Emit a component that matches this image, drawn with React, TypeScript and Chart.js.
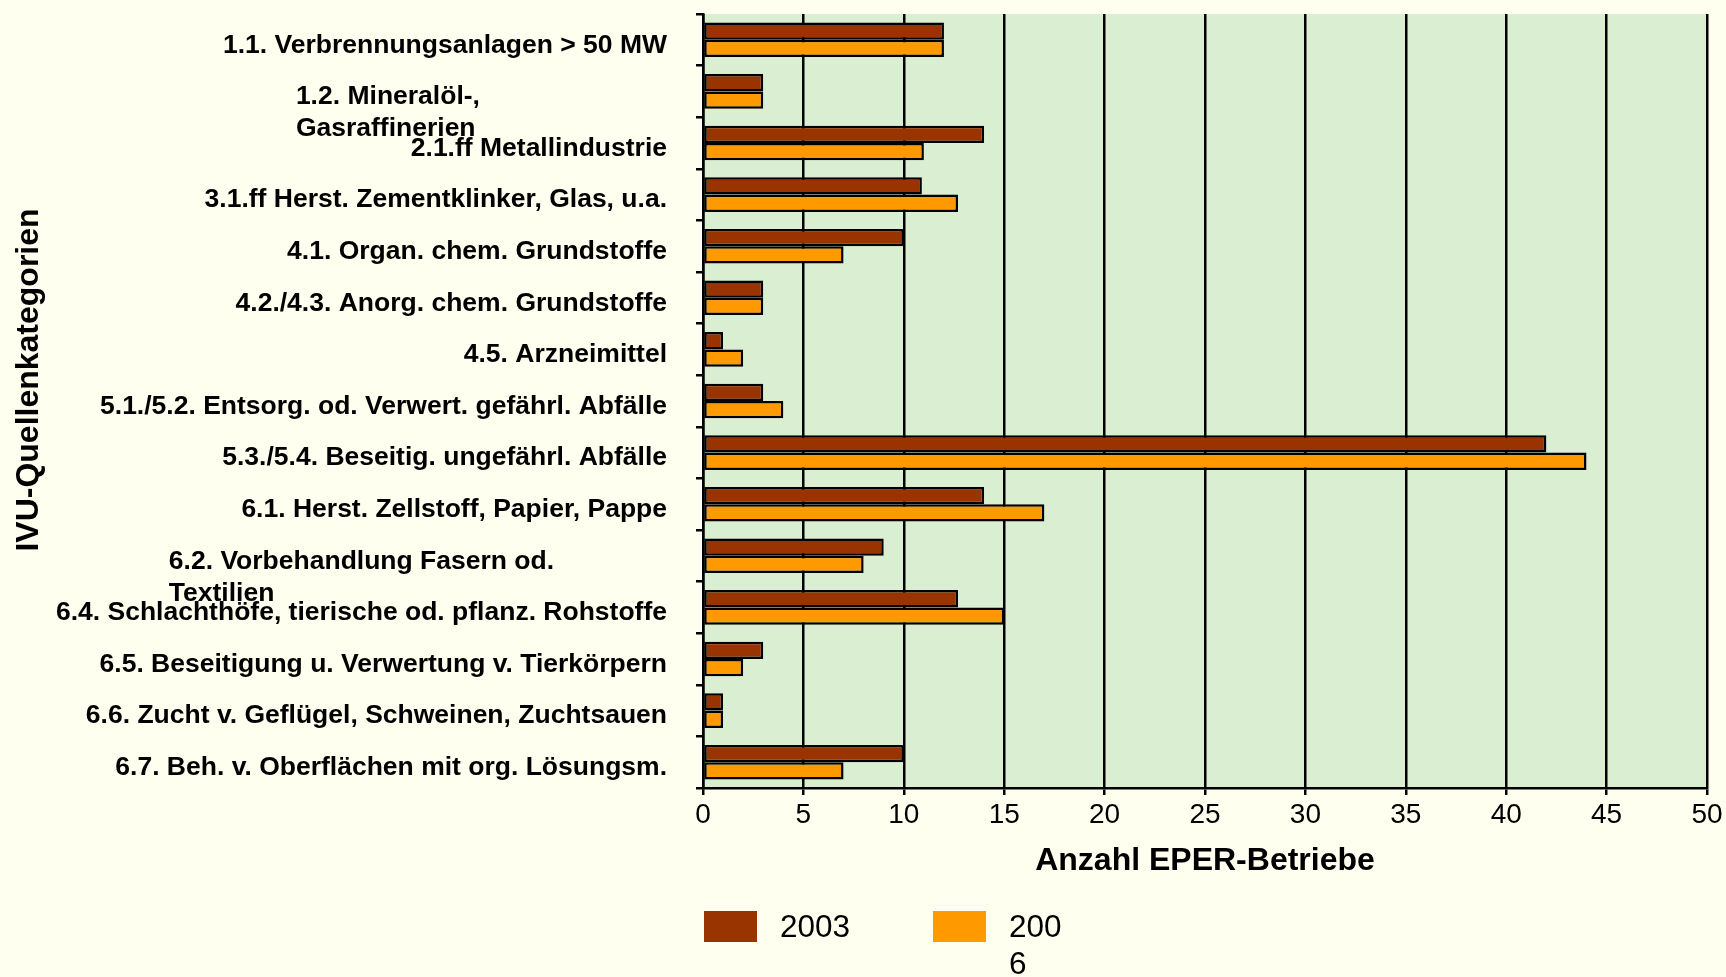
import React, { useEffect, useRef } from "react";
import { Chart, registerables } from "chart.js";

Chart.register(...registerables);

// ---------- data ----------
const CATEGORIES: (string | string[])[] = [
  "1.1. Verbrennungsanlagen > 50 MW",
  ["1.2. Mineralöl-,", "Gasraffinerien"],
  "2.1.ff Metallindustrie",
  "3.1.ff Herst. Zementklinker, Glas, u.a.",
  "4.1. Organ. chem. Grundstoffe",
  "4.2./4.3. Anorg. chem. Grundstoffe",
  "4.5. Arzneimittel",
  "5.1./5.2. Entsorg. od. Verwert. gefährl. Abfälle",
  "5.3./5.4. Beseitig. ungefährl. Abfälle",
  "6.1. Herst. Zellstoff, Papier, Pappe",
  ["6.2. Vorbehandlung Fasern od.", "Textilien"],
  "6.4. Schlachthöfe, tierische od. pflanz. Rohstoffe",
  "6.5. Beseitigung u. Verwertung v. Tierkörpern",
  "6.6. Zucht v. Geflügel, Schweinen, Zuchtsauen",
  "6.7. Beh. v. Oberflächen mit org. Lösungsm.",
];
const VALUES_2003 = [12, 3, 14, 10.9, 10, 3, 1, 3, 42, 14, 9, 12.7, 3, 1, 10];
const VALUES_2006 = [12, 3, 11, 12.7, 7, 3, 2, 4, 44, 17, 8, 15, 2, 1, 7];
const SERIES_NAMES = ["2003", "2006"];
const LEGEND_TEXT = [["2003"], ["200", "6"]];
const X_TITLE = "Anzahl EPER-Betriebe";
const Y_TITLE = "IVU-Quellenkategorien";
const X_MIN = 0;
const X_MAX = 50;
const X_STEP = 5;

// ---------- style ----------
const FONT = '"Liberation Sans", Arial, Helvetica, sans-serif';
const PAGE_BG = "#FFFFF0";
const PLOT_BG = "#DAEED2";
const COLORS = ["#993300", "#FF9900"];

const decorPlugin = {
  id: "decor",
  beforeDraw(chart: any) {
    const { ctx, chartArea: a } = chart;
    ctx.save();
    ctx.fillStyle = PLOT_BG;
    ctx.fillRect(a.left, a.top, a.right - a.left, a.bottom - a.top);
    ctx.restore();
  },
  afterDraw(chart: any) {
    const { ctx, chartArea: a } = chart;
    const yScale = chart.scales.y;
    ctx.save();
    ctx.fillStyle = "#000";
    ctx.textBaseline = "middle";
    ctx.font = `bold 26.5px ${FONT}`;
    const right = a.left - 36;
    CATEGORIES.forEach((lab, i) => {
      const cy = yScale.getPixelForValue(i) + 5.5;
      if (Array.isArray(lab)) {
        const w = ctx.measureText(lab.join(" ")).width;
        ctx.textAlign = "left";
        lab.forEach((line, k) => ctx.fillText(line, right - w, cy + k * 32));
      } else {
        ctx.textAlign = "right";
        ctx.fillText(lab, right, cy);
      }
    });

    // y-axis title
    ctx.save();
    ctx.translate(29, 380);
    ctx.rotate(-Math.PI / 2);
    ctx.font = `bold 32px ${FONT}`;
    ctx.textAlign = "center";
    ctx.fillText(Y_TITLE, 0, 0);
    ctx.restore();

    // legend
    ctx.font = `31.5px ${FONT}`;
    ctx.textAlign = "left";
    const itemX = [a.left + 1, a.left + 230];
    SERIES_NAMES.forEach((_, i) => {
      const bx = itemX[i];
      ctx.fillStyle = COLORS[i];
      ctx.fillRect(bx, 911, 53, 31);
      ctx.fillStyle = "#000";
      LEGEND_TEXT[i].forEach((line, k) => ctx.fillText(line, bx + 76, 928 + k * 37));
    });
    ctx.restore();
  },
};

export default function App() {
  const canvasRef = useRef<HTMLCanvasElement | null>(null);

  useEffect(() => {
    document.body.style.margin = "0";
    document.body.style.background = PAGE_BG;
    const canvas = canvasRef.current;
    if (!canvas) return;
    const chart = new Chart(canvas, {
      type: "bar",
      data: {
        labels: CATEGORIES as any,
        datasets: [
          {
            label: SERIES_NAMES[0],
            data: VALUES_2003,
            backgroundColor: COLORS[0],
            borderColor: "#000",
            borderWidth: 2.5,
            borderSkipped: false,
            categoryPercentage: 0.67,
            barPercentage: 1.0,
          },
          {
            label: SERIES_NAMES[1],
            data: VALUES_2006,
            backgroundColor: COLORS[1],
            borderColor: "#000",
            borderWidth: 2.5,
            borderSkipped: false,
            categoryPercentage: 0.67,
            barPercentage: 1.0,
          },
        ],
      },
      options: {
        indexAxis: "y",
        animation: false,
        responsive: false,
        devicePixelRatio: 1,
        layout: { padding: { top: 14, right: 19, bottom: 89, left: 0 } },
        plugins: {
          legend: { display: false },
          tooltip: { enabled: false },
        },
        scales: {
          x: {
            min: X_MIN,
            max: X_MAX,
            ticks: {
              stepSize: X_STEP,
              color: "#000",
              padding: 3,
              font: { family: FONT, size: 28 },
            },
            grid: {
              color: "#000",
              lineWidth: 2.5,
              drawTicks: true,
              tickLength: 7,
            },
            border: { display: true, color: "#000", width: 2.5 },
            title: {
              display: true,
              text: X_TITLE,
              color: "#000",
              font: { family: FONT, size: 32, weight: "bold" },
              padding: { top: 0, bottom: 8 },
            },
            afterFit: (s: any) => {
              s.height = 100;
            },
          },
          y: {
            ticks: { display: false },
            grid: {
              offset: true,
              drawOnChartArea: false,
              drawTicks: true,
              tickLength: 7,
              color: "#000",
              lineWidth: 2.5,
            },
            border: { display: true, color: "#000", width: 2.5 },
            afterFit: (s: any) => {
              s.width = 703;
            },
          },
        },
      },
      plugins: [decorPlugin],
    });
    return () => chart.destroy();
  }, []);

  return (
    <div style={{ width: 1726, height: 977, background: PAGE_BG }}>
      <canvas ref={canvasRef} width={1726} height={977} style={{ display: "block" }} />
    </div>
  );
}
